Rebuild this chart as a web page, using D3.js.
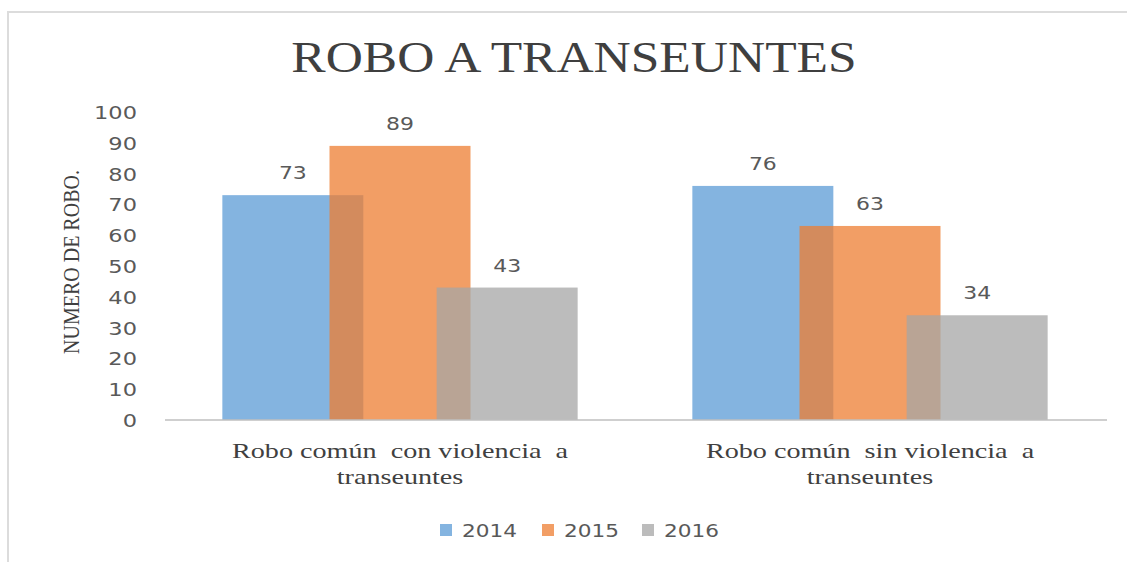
<!DOCTYPE html>
<html>
<head>
<meta charset="utf-8">
<script src="https://cdn.jsdelivr.net/npm/d3@7"></script>
<style>
  html, body { margin: 0; padding: 0; background: #fff; }
  text { white-space: pre; }
</style>
</head>
<body>
<div id="chart"></div>
<script>
const categories = [
  ['Robo común  con violencia  a', 'transeuntes'],
  ['Robo común  sin violencia  a', 'transeuntes']
];
const years = ['2014', '2015', '2016'];
const values2014 = [73, 76];
const values2015 = [89, 63];
const values2016 = [43, 34];
const yTicks = [0, 10, 20, 30, 40, 50, 60, 70, 80, 90, 100];

const seriesValues = [values2014, values2015, values2016];
const colors = ['#5b9bd5', '#ed7d31', '#a5a5a5'];

const width = 1127;
const height = 562;
const margin = { left: 165, right: 20, top: 112, bottom: 142 };

const svg = d3.select('#chart')
  .append('svg')
  .attr('width', width)
  .attr('height', height)
  .attr('viewBox', [0, 0, width, height]);

svg.append('rect').attr('width', width).attr('height', height).style('fill', '#fff');

// frame of the chart area
svg.append('rect')
  .attr('x', 8).attr('y', 12)
  .attr('width', width + 10).attr('height', height + 10)
  .style('fill', 'none')
  .style('stroke', '#dcdcdc')
  .style('stroke-width', 2);

// text in the source image is stretched horizontally
function addText(parent, x, y, str, sx) {
  return parent.append('text')
    .attr('transform', `translate(${x},${y}) scale(${sx},1)`)
    .text(str);
}

const catKeys = categories.map(c => c.join(' '));

const x0 = d3.scaleBand()
  .domain(catKeys)
  .range([margin.left, width - margin.right - 2]);

const x1 = d3.scalePoint()
  .domain(years)
  .range([-x0.bandwidth() * 0.228, x0.bandwidth() * 0.228]);

const barWidth = x0.bandwidth() * 0.3;

const y = d3.scaleLinear()
  .domain([0, 100])
  .range([height - margin.bottom, margin.top]);

// title
addText(svg, 574, 72, 'ROBO A TRANSEUNTES', 1.17)
  .attr('text-anchor', 'middle')
  .style('font-family', '"Liberation Serif", "Times New Roman", serif')
  .style('font-size', '44px')
  .style('fill', '#3f3f3f');

// y axis labels
const yAxis = svg.append('g')
  .attr('transform', `translate(${margin.left},0)`)
  .call(d3.axisLeft(y).tickValues(yTicks).tickSize(0).tickPadding(0));
yAxis.select('.domain').remove();
yAxis.selectAll('.tick text')
  .attr('x', 0)
  .attr('dy', '0.36em')
  .attr('transform', 'translate(-28,0) scale(1.25,1)')
  .style('font-family', '"DejaVu Sans", Verdana, sans-serif')
  .style('font-size', '18px')
  .style('fill', '#595959');

// y axis title
svg.append('text')
  .attr('transform', 'translate(79,262) rotate(-90) scale(1,1.15)')
  .attr('text-anchor', 'middle')
  .style('font-family', '"Liberation Serif", "Times New Roman", serif')
  .style('font-size', '20px')
  .style('fill', '#404040')
  .text('NUMERO DE ROBO.');

// bars, drawn series by series so later years sit on top
const groups = svg.append('g');
years.forEach((yr, si) => {
  groups.append('g')
    .selectAll('rect')
    .data(seriesValues[si])
    .join('rect')
    .attr('x', (d, i) => x0(catKeys[i]) + x0.bandwidth() / 2 + x1(yr) - barWidth / 2)
    .attr('y', d => y(d))
    .attr('width', barWidth)
    .attr('height', d => y(0) - y(d))
    .style('fill', colors[si])
    .style('fill-opacity', 0.75);
});

// value labels
years.forEach((yr, si) => {
  seriesValues[si].forEach((v, i) => {
    addText(svg, x0(catKeys[i]) + x0.bandwidth() / 2 + x1(yr), y(v) - 16, String(v), 1.22)
      .attr('text-anchor', 'middle')
      .style('font-family', '"DejaVu Sans", Verdana, sans-serif')
      .style('font-size', '18px')
      .style('fill', '#595959');
  });
});

// baseline
svg.append('line')
  .attr('x1', margin.left).attr('x2', width - margin.right)
  .attr('y1', y(0)).attr('y2', y(0))
  .style('stroke', '#bfbfbf')
  .style('stroke-width', 1.5);

// category labels
categories.forEach((lines, i) => {
  const cx = x0(catKeys[i]) + x0.bandwidth() / 2;
  lines.forEach((ln, li) => {
    addText(svg, cx, y(0) + 38 + li * 26, ln, 1.28)
      .attr('text-anchor', 'middle')
      .style('font-family', '"Liberation Serif", "Times New Roman", serif')
      .style('font-size', '22px')
      .style('fill', '#404040');
  });
});

// legend
const legendX = [440, 542, 642];
const legend = svg.append('g');
years.forEach((yr, si) => {
  legend.append('rect')
    .attr('x', legendX[si]).attr('y', 524)
    .attr('width', 12).attr('height', 12)
    .style('fill', colors[si])
    .style('fill-opacity', 0.75);
  addText(legend, legendX[si] + 22, 537, yr, 1.2)
    .style('font-family', '"DejaVu Sans", Verdana, sans-serif')
    .style('font-size', '18px')
    .style('fill', '#595959');
});
</script>
</body>
</html>
